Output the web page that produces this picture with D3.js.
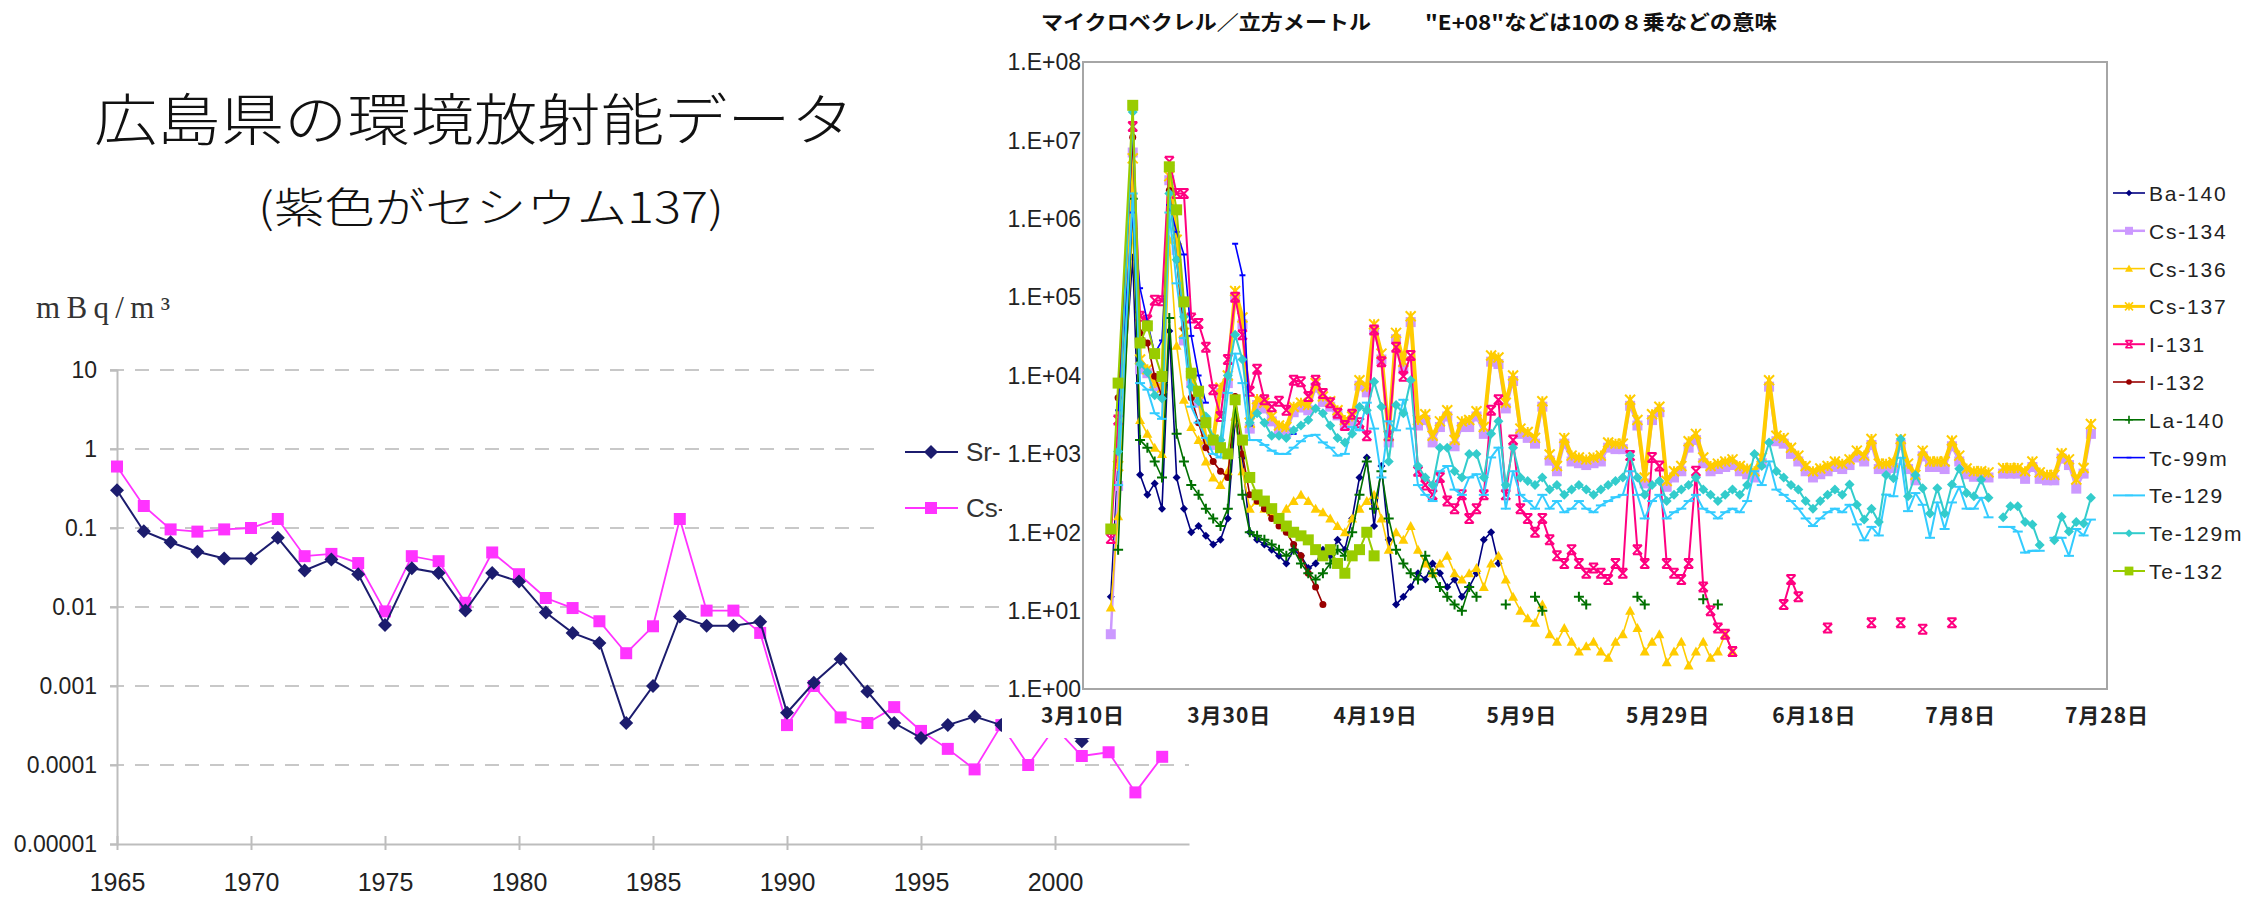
<!DOCTYPE html>
<html>
<head>
<meta charset="utf-8">
<script src="https://cdn.jsdelivr.net/npm/d3@7"></script>
<style>
  body { margin: 0; background: #fff; }
  svg { display: block; }
</style>
</head>
<body>
<svg id="chart" width="2243" height="900"></svg>
<script>
// ---- left chart : 広島県 yearly data (mBq/m3) ----
const years = [1965,1966,1967,1968,1969,1970,1971,1972,1973,1974,1975,1976,1977,1978,1979,1980,1981,1982,1983,1984,
  1985,1986,1987,1988,1989,1990,1991,1992,1993,1994,1995,1996,1997,1998,1999,2000,2001,2002,2003,2004];
const yearTicks = [1965,1970,1975,1980,1985,1990,1995,2000];
const leftYTicks = [10,1,0.1,0.01,0.001,0.0001,0.00001];
const leftYLabels = ["10","1","0.1","0.01","0.001","0.0001","0.00001"];
const sr90 = [0.30,0.091,0.066,0.050,0.041,0.041,0.075,0.029,0.040,0.026,0.0059,0.031,0.027,0.0090,0.027,0.021,0.0085,0.0047,0.0035,0.00034,
  0.0010,0.0076,0.0058,0.0058,0.0065,0.00046,0.0011,0.0022,0.00085,0.00034,0.00022,0.00032,0.00041,0.00032,0.0003,0.0003,0.0002,0.0003,0.0003,0.0003];
const cs137yr = [0.60,0.19,0.096,0.090,0.096,0.10,0.13,0.044,0.047,0.036,0.0088,0.044,0.038,0.0113,0.049,0.026,0.013,0.0097,0.0066,0.0026,
  0.0057,0.13,0.0090,0.0090,0.0047,0.00032,0.0010,0.00040,0.00034,0.00054,0.00027,0.00016,0.000088,0.00032,0.000100,0.0003,0.00013,0.000145,0.000045,0.000127];

// ---- right chart : days after 3/10 (2011), microBq/m3 ----
const dayTicks = [0,20,40,60,80,100,120,140];
const dayLabels = ["3月10日","3月30日","4月19日","5月9日","5月29日","6月18日","7月8日","7月28日"];
const rightYTicks = [1,10,100,1e3,1e4,1e5,1e6,1e7,1e8];
const rightYLabels = ["1.E+00","1.E+01","1.E+02","1.E+03","1.E+04","1.E+05","1.E+06","1.E+07","1.E+08"];
const isotopes = ["Ba-140","Cs-134","Cs-136","Cs-137","I-131","I-132","La-140","Tc-99m","Te-129","Te-129m","Te-132"];

const ba140 = [[4,15],[5,800],[7,3.2e5],[8,540],[9,300],[10,420],[11,200],[12,3.7e4],[13,500],[14,200],[15,100],[16,120],[17,90],[18,70],[19,80],
  [20,150],[21,2700],[22,900],[23,100],[24,80],[25,70],[26,60],[27,50],[28,40],[29,60],[30,50],[31,35],[32,40],[33,60],[34,50],[35,80],[36,60],
  [37,150],[38,500],[39,900],[40,120],[41,700],[42,80],[43,12],[44,15],[45,20],[46,30],[47,25],[48,40],[49,30],[50,20],[51,25],[52,15],[53,20],
  [54,30],[55,80],[56,100],[57,40]];
const cs134 = [[4,5],[5,390],[7,7e6],[8,1.2e4],[9,1.07e4],[10,7300],[11,6900],[12,3.1e6],[13,4e5],[14,2.8e4],[15,8000],[16,4500],[17,1300],[18,1300],
  [19,6000],[20,8000],[21,1e5],[22,4.5e4],[23,2100],[24,4200],[25,3800],[26,2600],[27,2000],[28,1900],[29,3400],[30,3900],[31,3600],[32,7000],
  [33,4600],[34,4000],[35,3100],[36,2300],[37,2600],[38,7400],[39,6100],[40,3.8e4],[41,1.6e4],[42,1400],[43,2.9e4],[44,1.2e4],[45,4.8e4],[46,2300],
  [47,2700],[48,1400],[49,2200],[50,3000],[51,1250],[52,2200],[53,2200],[54,3000],[55,1800],[56,1.5e4],[57,1.4e4],[58,3800],[59,8500],[60,1800],
  [61,1600],[62,1350],[63,4000],[64,820],[65,600],[66,1350],[67,800],[68,760],[69,720],[70,760],[71,800],[72,1200],[73,1150],[74,1150],[75,4100],
  [76,2300],[77,420],[78,2700],[79,3400],[80,380],[81,500],[82,600],[83,1200],[84,1500],[85,760],[86,600],[87,640],[88,680],[89,720],[90,600],
  [91,550],[92,500],[93,760],[94,7200],[95,1450],[96,1350],[97,1000],[98,800],[99,600],[100,500],[101,550],[102,600],[103,680],[104,640],[105,720],
  [106,900],[107,800],[108,1300],[109,640],[110,640],[111,660],[112,1300],[113,640],[114,460],[115,930],[116,680],[117,680],[118,640],[119,1250],
  [120,800],[121,550],[122,510],[123,510],[124,500],[125,null],[126,560],[127,560],[128,560],[129,480],[130,680],[131,480],[132,460],[133,460],
  [134,870],[135,720],[136,360],[137,560],[138,1800]];
const cs136 = [[4,11],[5,160],[7,8.3e5],[8,2700],[9,1800],[10,1200],[11,1000],[12,5.4e5],[13,2.4e4],[14,4900],[15,2200],[16,1500],[17,800],[18,500],
  [19,400],[20,600],[21,3000],[22,600],[23,200],[24,250],[25,200],[26,180],[27,150],[28,200],[29,250],[30,300],[31,250],[32,200],[33,180],[34,150],
  [35,120],[36,100],[37,150],[38,200],[39,250],[40,300],[41,150],[42,60],[43,100],[44,80],[45,120],[46,60],[47,40],[48,30],[49,40],[50,50],[51,30],
  [52,25],[53,30],[54,35],[55,20],[56,40],[57,50],[58,25],[59,15],[60,10],[61,8],[62,7],[63,12],[64,5],[65,4],[66,6],[67,4],[68,3],[69,3.5],[70,4],
  [71,3],[72,2.5],[73,4],[74,5],[75,10],[76,6],[77,3],[78,4],[79,5],[80,2.2],[81,3],[82,4],[83,2],[84,3],[85,4],[86,2.5],[87,3],[88,5],[89,3]];
const cs137 = [[5,700],[7,5.9e6],[8,1.6e4],[9,1.2e4],[10,8000],[11,7000],[12,3.5e6],[13,5.4e5],[14,3.5e4],[15,1e4],[16,5900],[17,1500],[18,1500],
  [19,7000],[20,1e4],[21,1.2e5],[22,5.5e4],[23,2500],[24,5000],[25,4500],[26,3000],[27,2300],[28,2200],[29,4000],[30,4500],[31,4200],[32,8000],
  [33,5400],[34,4700],[35,3600],[36,2700],[37,3000],[38,8700],[39,7200],[40,4.5e4],[41,1.9e4],[42,1700],[43,3.5e4],[44,1.5e4],[45,5.7e4],[46,2700],
  [47,3200],[48,1700],[49,2600],[50,3600],[51,1500],[52,2600],[53,2700],[54,3500],[55,2200],[56,1.8e4],[57,1.7e4],[58,4500],[59,1e4],[60,2100],
  [61,1900],[62,1600],[63,4700],[64,980],[65,700],[66,1600],[67,950],[68,900],[69,850],[70,900],[71,950],[72,1400],[73,1350],[74,1350],[75,4900],
  [76,2700],[77,500],[78,3200],[79,4000],[80,450],[81,600],[82,700],[83,1450],[84,1800],[85,900],[86,700],[87,750],[88,800],[89,850],[90,700],
  [91,650],[92,600],[93,900],[94,8700],[95,1700],[96,1600],[97,1200],[98,950],[99,700],[100,600],[101,650],[102,700],[103,800],[104,750],[105,850],
  [106,1100],[107,950],[108,1550],[109,750],[110,750],[111,780],[112,1550],[113,750],[114,540],[115,1100],[116,800],[117,800],[118,800],[119,1480],
  [120,950],[121,650],[122,600],[123,600],[124,580],[125,null],[126,660],[127,660],[128,660],[129,600],[130,800],[131,580],[132,540],[133,540],
  [134,1020],[135,850],[136,470],[137,660],[138,2400]];
const i131 = [[4,83],[5,2700],[7,1.5e7],[8,5.7e4],[9,5.1e4],[10,9.1e4],[11,9e4],[12,5.4e6],[13,2.1e6],[14,2.1e6],[15,5.4e4],[16,4.6e4],[17,2.3e4],
  [18,6600],[19,3000],[20,1.6e4],[21,1e5],[22,3.3e4],[23,6300],[24,1.2e4],[25,4900],[26,4000],[27,4700],[28,3600],[29,8700],[30,8300],[31,5400],
  [32,8700],[33,5900],[34,4500],[35,3300],[36,2300],[37,3200],[38,2500],[39,1700],[40,3.8e4],[41,1.5e4],[42,1700],[43,2.3e4],[44,9800],[45,1.8e4],
  [46,600],[47,400],[48,300],[49,500],[50,250],[51,200],[52,300],[53,150],[54,200],[55,300],[56,3600],[57,4900],[58,300],[59,1500],[60,200],[61,150],
  [62,100],[63,150],[64,80],[65,50],[66,40],[67,60],[68,40],[69,30],[70,35],[71,30],[72,25],[73,40],[74,30],[75,950],[76,60],[77,40],[78,900],
  [79,700],[80,40],[81,30],[82,25],[83,40],[84,600],[85,20],[86,10],[87,6],[88,5],[89,3],[90,null],[96,12],[97,25],[98,15],[99,null],[102,6],
  [103,null],[108,7],[109,null],[112,7],[113,null],[115,5.8],[116,null],[119,7]];
const i132 = [[5,5200],[7,1.1e7],[8,3.5e4],[9,2.6e4],[10,9800],[11,5400],[12,2.3e6],[13,3e5],[14,4e4],[15,5200],[16,2500],[17,1200],[18,800],
  [19,600],[20,500],[21,5400],[22,1000],[23,300],[24,250],[25,200],[26,150],[27,120],[28,100],[29,70],[30,50],[31,30],[32,20],[33,12]];
const la140 = [[5,60],[7,1.8e6],[8,1500],[9,1200],[10,800],[11,500],[12,5.4e4],[13,1800],[14,800],[15,400],[16,300],[17,200],[18,150],[19,120],
  [20,200],[21,4700],[22,300],[23,100],[24,90],[25,80],[26,70],[27,60],[28,50],[29,60],[30,40],[31,30],[32,25],[33,30],[34,40],[35,60],[36,50],
  [37,100],[38,300],[39,800],[40,200],[41,600],[42,150],[43,60],[44,40],[45,30],[46,25],[47,50],[48,30],[49,20],[50,15],[51,12],[52,10],[53,20],
  [54,15],[55,null],[58,12],[59,null],[62,15],[63,10],[64,null],[68,15],[69,12],[70,null],[76,15],[77,12],[78,null],[85,14],[86,null],[87,12]];
const tc99m = [[5,3600],[7,1.2e6],[8,1.3e5],[9,4.9e4],[10,1.9e4],[11,2.8e4],[12,1.5e6],[13,6.8e5],[14,3.5e5],[15,3.2e4],[16,1e4],[17,4500],
  [18,null],[21,4.8e5],[22,1.9e5],[23,2300],[24,null],[29,1800]];
const te129 = [[5,400],[7,2.1e6],[8,8000],[9,6600],[10,3300],[11,2800],[12,1.2e6],[13,1.5e5],[14,3e4],[15,4000],[16,2500],[17,1600],[18,1000],
  [19,900],[20,6000],[21,1.9e4],[22,8000],[23,1500],[24,1500],[25,1300],[26,1100],[27,1000],[28,1000],[29,1200],[30,1450],[31,1700],[32,1750],
  [33,1400],[34,1200],[35,950],[36,1000],[37,2200],[38,2000],[39,4500],[40,2100],[41,500],[42,2600],[43,2000],[44,4900],[45,2100],[46,400],[47,300],
  [48,250],[49,600],[50,700],[51,350],[52,300],[53,500],[54,550],[55,300],[56,900],[57,1200],[58,200],[59,600],[60,300],[61,250],[62,200],[63,300],
  [64,200],[65,250],[66,180],[67,200],[68,250],[69,200],[70,180],[71,220],[72,250],[73,280],[74,300],[75,600],[76,300],[77,150],[78,250],[79,300],
  [80,150],[81,180],[82,200],[83,250],[84,300],[85,200],[86,180],[87,150],[88,180],[89,200],[90,180],[91,250],[92,600],[93,400],[94,800],[95,350],
  [96,300],[97,250],[98,200],[99,150],[100,120],[101,150],[102,180],[103,200],[104,180],[105,224],[106,126],[107,79],[108,117],[109,91],[110,302],
  [111,288],[112,891],[113,186],[114,316],[115,224],[116,85],[117,240],[118,110],[119,240],[120,380],[121,200],[122,200],[123,275],[124,155],
  [125,null],[126,117],[127,117],[128,102],[129,55],[130,58],[131,58],[132,null],[133,85],[134,85],[135,50],[136,110],[137,91],[138,145]];
const te129m = [[5,1070],[7,2.3e7],[8,1.4e4],[9,1.1e4],[10,5600],[11,5100],[12,2.1e6],[13,3e5],[14,5.6e4],[15,7200],[16,4700],[17,3000],[18,1600],
  [19,1500],[20,1e4],[21,3.3e4],[22,1.6e4],[23,2500],[24,3300],[25,2500],[26,1700],[27,1700],[28,1600],[29,2000],[30,2300],[31,2700],[32,3800],
  [33,3300],[34,2300],[35,1600],[36,1400],[37,1800],[38,4000],[39,3600],[40,8300],[41,4000],[42,800],[43,4200],[44,3300],[45,8700],[46,700],[47,500],
  [48,400],[49,1200],[50,1200],[51,600],[52,500],[53,1000],[54,1000],[55,500],[56,1800],[57,2600],[58,400],[59,1200],[60,500],[61,450],[62,400],
  [63,500],[64,350],[65,400],[66,300],[67,350],[68,400],[69,350],[70,300],[71,350],[72,400],[73,450],[74,500],[75,950],[76,500],[77,300],[78,400],
  [79,450],[80,250],[81,300],[82,350],[83,400],[84,500],[85,350],[86,300],[87,250],[88,300],[89,350],[90,300],[91,400],[92,1000],[93,700],[94,1400],
  [95,600],[96,500],[97,400],[98,350],[99,250],[100,200],[101,250],[102,300],[103,350],[104,300],[105,407],[106,224],[107,145],[108,200],[109,135],
  [110,537],[111,490],[112,1550],[113,288],[114,537],[115,363],[116,174],[117,363],[118,174],[119,407],[120,646],[121,316],[122,288],[123,468],
  [124,275],[125,null],[126,155],[127,214],[128,214],[129,135],[130,126],[131,69],[132,null],[133,79],[134,158],[135,102],[136,135],[137,129],[138,275]];
const te132 = [[4,110],[5,8000],[7,2.8e7],[8,2.6e4],[9,4.3e4],[10,1.9e4],[11,9700],[12,4.6e6],[13,1.3e6],[14,8.7e4],[15,1.07e4],[16,6300],
  [17,2500],[18,1500],[19,1200],[20,1000],[21,4900],[22,1500],[23,500],[24,300],[25,250],[26,200],[27,150],[28,120],[29,100],[30,90],[31,80],
  [32,60],[33,50],[34,60],[35,40],[36,30],[37,50],[38,60],[39,100],[40,50]];

const svg = d3.select("#chart");

// marker shapes (path strings, r = half size)
const marks = {
  diamond: (r) => `M0,${-r}L${r},0L0,${r}L${-r},0Z`,
  square: (r) => `M${-r},${-r}H${r}V${r}H${-r}Z`,
  triangle: (r) => `M0,${-r}L${r},${r * 0.8}L${-r},${r * 0.8}Z`,
  circle: (r) => d3.symbol(d3.symbolCircle, Math.PI * r * r)(),
  plus: (r) => `M${-r},0H${r}M0,${-r}V${r}`,
  dash: (r) => `M${-r},0H${r}`,
  xbar: (r) => `M${-r},${-r}L${r},${r}M${r},${-r}L${-r},${r}M${-r},${-r}H${r}M${-r},${r}H${r}`,
  star: (r) => `M${-r},${-r}L${r},${r}M${r},${-r}L${-r},${r}M0,${-r}V${r}`
};

// ================= left chart =================
const xL = d3.scaleLinear().domain([1965, 2005]).range([117, 1189]);
const yL = d3.scaleLog().domain([1e-5, 10]).range([844, 370]);

svg.append("text").attr("x", 94).attr("y", 140)
  .attr("font-family", "'Noto Sans CJK JP'").attr("font-size", 56).attr("font-weight", 300)
  .attr("textLength", 760).attr("lengthAdjust", "spacingAndGlyphs").attr("fill", "#111")
  .text("広島県の環境放射能データ");
svg.append("text").attr("x", 258).attr("y", 223)
  .attr("font-family", "'Noto Sans CJK JP'").attr("font-size", 42).attr("font-weight", 300)
  .attr("textLength", 466).attr("lengthAdjust", "spacingAndGlyphs").attr("fill", "#111")
  .text("(紫色がセシウム137)");
svg.append("text").attr("x", 36).attr("y", 318)
  .attr("font-family", "'Liberation Serif'").attr("font-size", 31).attr("fill", "#333")
  .attr("textLength", 134).attr("lengthAdjust", "spacing")
  .text("mBq/m³");

// dashed gridlines
svg.append("g").selectAll("line").data(leftYTicks.slice(0, 6)).join("line")
  .attr("x1", 110).attr("x2", xL(2005))
  .attr("y1", (d) => yL(d)).attr("y2", (d) => yL(d))
  .attr("stroke", "#c8c8c8").attr("stroke-width", 2).attr("stroke-dasharray", "14,11");

// axes
const axisL = svg.append("g").attr("transform", "translate(117,0)")
  .call(d3.axisLeft(yL).tickValues(leftYTicks).tickFormat((d, i) => leftYLabels[i]).tickSize(7).tickPadding(13));
const axisB = svg.append("g").attr("transform", "translate(0,844)")
  .call(d3.axisBottom(xL).tickValues(yearTicks).tickFormat(d3.format("d")).tickSizeInner(6).tickSizeOuter(0).tickPadding(23));
[axisL, axisB].forEach((g) => {
  g.select(".domain").attr("stroke", "#bdbdbd").attr("stroke-width", 2);
  g.selectAll(".tick line").attr("stroke", "#bdbdbd").attr("stroke-width", 2);
  g.selectAll("text").attr("font-family", "'Liberation Sans'").attr("font-size", 23).attr("fill", "#222");
});
axisB.selectAll("text").attr("font-size", 25);
axisB.selectAll(".tick line").attr("y1", -8).attr("y2", 6);

const leftSeries = [
  { name: "Sr-90", values: sr90, color: "#1c1c6e", lw: 2, mark: "diamond", r: 7 },
  { name: "Cs-137", values: cs137yr, color: "#ff33ff", lw: 1.8, mark: "square", r: 6 }
];
leftSeries.slice().reverse().forEach((s) => {
  const pts = years.map((y, i) => [y, s.values[i]]);
  svg.append("path").datum(pts)
    .attr("d", d3.line().x((d) => xL(d[0])).y((d) => yL(d[1])))
    .attr("fill", "none").attr("stroke", s.color).attr("stroke-width", s.lw);
  svg.append("g").selectAll("path").data(pts).join("path")
    .attr("transform", (d) => `translate(${xL(d[0])},${yL(d[1])})`)
    .attr("d", marks[s.mark](s.r)).attr("fill", s.color);
});

// legend (white box behind it hides grid); only the start of each name
// shows, the rest is under the pasted panel
svg.append("rect").attr("x", 880).attr("y", 356).attr("width", 130).attr("height", 200).attr("fill", "#fff");
leftSeries.forEach((s, i) => {
  const ly = 452 + i * 56;
  svg.append("line").attr("x1", 905).attr("x2", 958).attr("y1", ly).attr("y2", ly)
    .attr("stroke", s.color).attr("stroke-width", s.lw);
  svg.append("path").attr("transform", `translate(931,${ly})`).attr("d", marks[s.mark](s.r)).attr("fill", s.color);
  svg.append("text").attr("x", 966).attr("y", ly + 9)
    .attr("font-family", "'Liberation Sans'").attr("font-size", 26).attr("fill", "#333")
    .text(s.name.slice(0, 3));
});

// ================= right chart (pasted panel) =================
svg.append("rect").attr("x", 1002).attr("y", 0).attr("width", 1241).attr("height", 738).attr("fill", "#fff");

const xR = d3.scaleLinear().domain([0, 140]).range([1083, 2107]);
const yR = d3.scaleLog().domain([1, 1e8]).range([689, 62]);
const shift = -0.2; // points sit slightly left of the date ticks

svg.append("text").attr("x", 1041).attr("y", 30)
  .attr("font-family", "'Noto Sans CJK JP'").attr("font-size", 20).attr("font-weight", 700)
  .attr("textLength", 330).attr("lengthAdjust", "spacingAndGlyphs").attr("fill", "#111")
  .text("マイクロベクレル／立方メートル");
svg.append("text").attr("x", 1425).attr("y", 30)
  .attr("font-family", "'Noto Sans CJK JP'").attr("font-size", 20).attr("font-weight", 700)
  .attr("textLength", 352).attr("lengthAdjust", "spacingAndGlyphs").attr("fill", "#111")
  .text("\"E+08\"などは10の８乗などの意味");

svg.append("rect").attr("x", 1083).attr("y", 62).attr("width", 1024).attr("height", 627)
  .attr("fill", "none").attr("stroke", "#a6a6a6").attr("stroke-width", 2);

svg.append("g").selectAll("text").data(rightYTicks).join("text")
  .attr("x", 1081).attr("y", (d) => yR(d)).attr("dy", "0.36em").attr("text-anchor", "end")
  .attr("font-family", "'Liberation Sans'").attr("font-size", 23).attr("fill", "#222")
  .text((d, i) => rightYLabels[i]);

svg.append("g").selectAll("text").data(dayTicks).join("text")
  .attr("x", (d) => xR(d)).attr("y", 723).attr("text-anchor", "middle")
  .attr("font-family", "'Noto Sans CJK JP'").attr("font-size", 21).attr("font-weight", 700)
  .attr("letter-spacing", 1).attr("fill", "#222")
  .text((d, i) => dayLabels[i]);

const rightSeries = [
  { data: ba140, color: "#000080", lw: 1.6, mark: "diamond", r: 4, fill: true },
  { data: cs134, color: "#cc99ff", lw: 2.5, mark: "square", r: 5, fill: true },
  { data: cs136, color: "#ffcc00", lw: 1.6, mark: "triangle", r: 5, fill: true },
  { data: cs137, color: "#ffcc00", lw: 4, mark: "star", r: 5, fill: false },
  { data: i131, color: "#ff0080", lw: 2, mark: "xbar", r: 4.5, fill: false },
  { data: i132, color: "#990000", lw: 1.6, mark: "circle", r: 3.5, fill: true },
  { data: la140, color: "#007000", lw: 1.6, mark: "plus", r: 5, fill: false },
  { data: tc99m, color: "#0000ff", lw: 1.6, mark: "dash", r: 3, fill: false },
  { data: te129, color: "#33ccff", lw: 2, mark: "dash", r: 5, fill: false },
  { data: te129m, color: "#33cccc", lw: 2, mark: "diamond", r: 5, fill: true },
  { data: te132, color: "#99cc00", lw: 2, mark: "square", r: 5.5, fill: true }
];

const lineR = d3.line().defined((d) => d[1] != null)
  .x((d) => xR(d[0] + shift)).y((d) => yR(d[1]));

const plot = svg.append("g");
rightSeries.forEach((s) => {
  plot.append("path").datum(s.data).attr("d", lineR)
    .attr("fill", "none").attr("stroke", s.color).attr("stroke-width", s.lw).attr("stroke-linejoin", "round");
  plot.append("g").selectAll("path").data(s.data.filter((d) => d[1] != null)).join("path")
    .attr("transform", (d) => `translate(${xR(d[0] + shift)},${yR(d[1])})`)
    .attr("d", marks[s.mark](s.r))
    .attr("fill", s.fill ? s.color : "none")
    .attr("stroke", s.color).attr("stroke-width", s.fill ? 0 : 2);
});

// legend
rightSeries.forEach((s, i) => {
  const ly = 193 + i * 37.8;
  const g = svg.append("g");
  g.append("line").attr("x1", 2113).attr("x2", 2145).attr("y1", ly).attr("y2", ly)
    .attr("stroke", s.color).attr("stroke-width", Math.min(s.lw, 3));
  g.append("path").attr("transform", `translate(2129,${ly})`).attr("d", marks[s.mark](s.r * 0.8))
    .attr("fill", s.fill ? s.color : "none").attr("stroke", s.color).attr("stroke-width", s.fill ? 0 : 1.6);
  g.append("text").attr("x", 2149).attr("y", ly + 8)
    .attr("font-family", "'Liberation Sans'").attr("font-size", 21).attr("letter-spacing", 1.8).attr("fill", "#222")
    .text(isotopes[i]);
});
</script>
</body>
</html>
